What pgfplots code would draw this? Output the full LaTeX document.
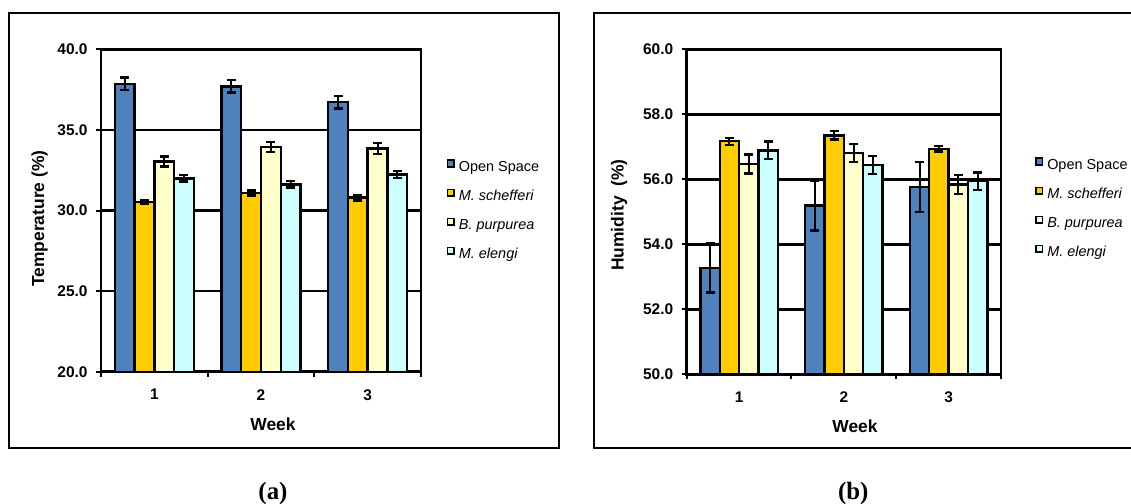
\documentclass[border=0pt]{standalone}
\usepackage{fontspec}
\setmainfont{Liberation Sans}
\newfontfamily\captionserif{Liberation Serif}
\usepackage{pgfplots}
\pgfplotsset{compat=1.18}

\definecolor{openblue}{HTML}{4F81BD}
\definecolor{goldbar}{HTML}{FFCC00}
\definecolor{paleyellow}{HTML}{FFFFCC}
\definecolor{palecyan}{HTML}{CCFFFF}

\pgfplotsset{
  weekbar/.style={draw=black, line width=2.4bp, fill=#1,
    error bars/y dir=both, error bars/y explicit,
    error bars/error bar style={black, line width=2bp},
    error bars/error mark options={black, rotate=90, line width=2.4bp, mark size=4.5bp}},
  weekpanel/.style={
    scale only axis,
    ybar=0pt,
    bar width=0.185,
    xmin=0.5, xmax=3.5,
    xtick={0.5,1.5,2.5,3.5},
    xticklabels={},
    extra x ticks={1,2,3},
    extra x tick labels={1,2,3},
    extra x tick style={major tick length=0pt},
    tick pos=left,
    tick align=outside,
    major tick length=5bp,
    tick style={black, line width=2bp},
    ymajorgrids,
    grid style={black, line width=2.6bp},
    axis line style={black, line width=2.6bp},
    /pgf/number format/assume math mode=true,
    tick label style={font=\fontsize{15.5}{18}\selectfont\bfseries},
    yticklabel style={/pgf/number format/fixed,
      /pgf/number format/fixed zerofill,
      /pgf/number format/precision=1, xshift=-5bp},
    xticklabel style={yshift=-14bp},
    label style={font=\fontsize{17.5}{20}\selectfont\bfseries},
    every axis plot post/.append style={legend image code/.code={
      \draw[#1, draw=black, line width=1.6bp] (0bp,1.5bp) rectangle (6.5bp,8bp);}},
    legend cell align=left,
    legend style={draw=none, fill=none, inner sep=0pt,
      anchor=north west,
      font=\fontsize{14.5}{16}\selectfont,
      row sep=13.3bp,
      nodes={inner sep=0pt, text height=10bp, text depth=4bp},
      /tikz/every odd column/.append style={column sep=4bp}},
  }
}

\begin{document}
\begin{tikzpicture}
\path[use as bounding box] (0,0) rectangle (1131bp,-504bp);

% outer frames of the two panels
\draw[line width=2bp] (9bp,-13.3bp) rectangle (559bp,-448.3bp);
\draw[line width=2bp] (594.3bp,-13.3bp) rectangle (1150bp,-448.3bp);

% (a) temperature
\begin{axis}[weekpanel,
  at={(101bp,-371.7bp)}, anchor=south west,
  width=320bp, height=322.4bp,
  ymin=20, ymax=40, ytick={20,25,30,35,40},
  xlabel={Week}, ylabel={Temperature (\%)},
  xlabel style={at={(axis description cs:0.5375,-0.163)}, anchor=center},
  ylabel style={at={(axis description cs:-0.192,0.475)}, anchor=center},
  legend style={at={(axis description cs:1.080,0.659)}},
]
\addplot[weekbar=openblue] coordinates {(1,37.86) +- (0,0.40) (2,37.70) +- (0,0.39) (3,36.72) +- (0,0.39)};
\addlegendentry{Open Space}
\addplot[weekbar=goldbar] coordinates {(1,30.53) +- (0,0.14) (2,31.08) +- (0,0.15) (3,30.80) +- (0,0.18)};
\addlegendentry{\itshape M. schefferi}
\addplot[weekbar=paleyellow] coordinates {(1,33.05) +- (0,0.31) (2,33.93) +- (0,0.31) (3,33.85) +- (0,0.33)};
\addlegendentry{\itshape B. purpurea}
\addplot[weekbar=palecyan] coordinates {(1,31.99) +- (0,0.20) (2,31.62) +- (0,0.20) (3,32.23) +- (0,0.21)};
\addlegendentry{\itshape M. elengi}
\end{axis}

% (b) humidity
\begin{axis}[weekpanel,
  at={(686.7bp,-374.3bp)}, anchor=south west,
  width=314.3bp, height=325bp,
  ymin=50, ymax=60, ytick={50,52,54,56,58,60},
  xlabel={Week}, ylabel={Humidity\ \ (\%)},
  xlabel style={at={(axis description cs:0.5355,-0.159)}, anchor=center},
  ylabel style={at={(axis description cs:-0.215,0.49)}, anchor=center},
  legend style={at={(axis description cs:1.108,0.668)}},
]
\addplot[weekbar=openblue] coordinates {(1,53.27) +- (0,0.75) (2,55.19) +- (0,0.77) (3,55.76) +- (0,0.77)};
\addlegendentry{Open Space}
\addplot[weekbar=goldbar] coordinates {(1,57.17) +- (0,0.11) (2,57.35) +- (0,0.13) (3,56.94) +- (0,0.09)};
\addlegendentry{\itshape M. schefferi}
\addplot[weekbar=paleyellow] coordinates {(1,56.47) +- (0,0.29) (2,56.81) +- (0,0.27) (3,55.84) +- (0,0.29)};
\addlegendentry{\itshape B. purpurea}
\addplot[weekbar=palecyan] coordinates {(1,56.89) +- (0,0.27) (2,56.44) +- (0,0.27) (3,55.94) +- (0,0.27)};
\addlegendentry{\itshape M. elengi}
\end{axis}

% panel captions
\node[anchor=base, font=\captionserif\bfseries\fontsize{25}{28}\selectfont] at (273bp,-499bp) {(a)};
\node[anchor=base, font=\captionserif\bfseries\fontsize{25}{28}\selectfont] at (853.3bp,-499bp) {(b)};
\end{tikzpicture}
\end{document}
